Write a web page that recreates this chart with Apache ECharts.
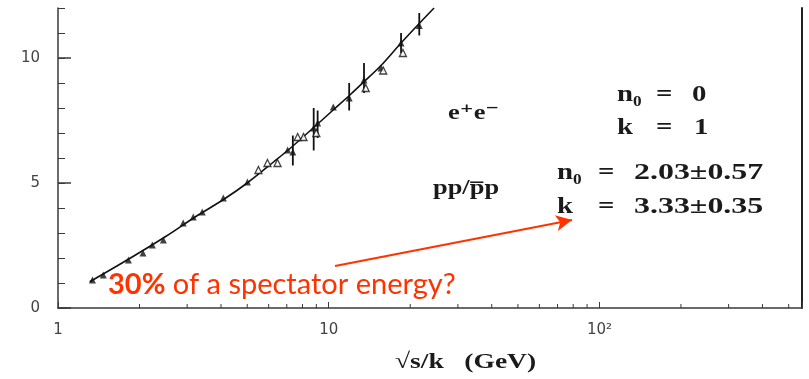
<!DOCTYPE html>
<html><head><meta charset="utf-8">
<script src="https://cdn.jsdelivr.net/npm/echarts@6/dist/echarts.min.js"></script>
<style>html,body{margin:0;padding:0;background:#fff}#c{width:809px;height:379px}</style>
</head><body><div id="c"></div>
<script>
// fitted curve
const curveX = [1.31, 1.82, 2.49, 3.22, 4.10, 5.0, 6.27, 7.23, 9.08, 10.46, 12.06, 13.5, 15.6, 18.5, 21.9, 24.5];
const curveY = [1.05, 1.95, 2.85, 3.65, 4.35, 5.0, 5.85, 6.4, 7.35, 7.95, 8.55, 9.05, 9.7, 10.6, 11.45, 12.0];
// filled triangle data
const filledX = [1.34, 1.47, 1.82, 2.06, 2.23, 2.45, 2.90, 3.16, 3.41, 4.08, 5.01, 7.05, 7.37, 8.8, 9.1, 10.4, 11.9, 13.5, 15.6, 18.5, 21.6];
const filledY = [1.12, 1.32, 1.92, 2.20, 2.52, 2.72, 3.40, 3.64, 3.84, 4.40, 5.04, 6.32, 6.24, 7.2, 7.4, 8.04, 8.4, 9.12, 9.6, 10.6, 11.3];
// open symbol data
const openX = [5.5, 5.94, 6.47, 7.68, 8.07, 9.0, 13.7, 15.9, 18.8];
const openY = [5.52, 5.8, 5.8, 6.84, 6.84, 7.0, 8.8, 9.5, 10.2];
// vertical error bars
const errX    = [7.37, 8.8, 9.1, 11.9, 13.5, 18.5, 21.6];
const errLow  = [5.7, 6.3, 6.8, 7.9, 8.6, 10.2, 10.9];
const errHigh = [6.9, 8.0, 7.9, 9.0, 9.8, 11.0, 11.8];
// axis ticks
const xMinorTicks = [2,3,4,5,6,7,8,9,20,30,40,50,60,70,80,90,200,300,400,500];
const yMajorTicks = [0, 5, 10];
const xTickLabels = {1: '1', 10: '10', 100: '10²'};
// arrow (data coordinates)
const arrowFrom = [10.55, 1.68];
const arrowTo = [79.2, 3.52];

const chart = echarts.init(document.getElementById('c'), null, {renderer: 'canvas'});
const zip = (a, b) => a.map((v, i) => [v, b[i]]);
const AX = '#3a3a3a';
const RED = '#ff3300';
const serif = '"Liberation Serif","DejaVu Serif",serif';
function txt(x, y, text, size, sx, extra) {
  return Object.assign({
    type: 'text', x: x, y: y, scaleX: sx || 1,
    style: {text: text, font: 'bold ' + size + 'px ' + serif, fill: '#1a1a1a', align: 'left', verticalAlign: 'middle'}
  }, extra || {});
}
chart.setOption({
  animation: false,
  grid: {left: 58, right: 7, top: 8, bottom: 71},
  xAxis: {
    type: 'log', logBase: 10, min: 1, max: 560,
    axisLine: {show: true, lineStyle: {color: AX, width: 1.5}},
    axisTick: {show: true, inside: true, length: 6, lineStyle: {color: AX}},
    splitLine: {show: false},
    axisLabel: {margin: 15, color: '#444', fontSize: 15, fontFamily: 'DejaVu Sans',
      formatter: v => xTickLabels[Math.round(v)] || ''}
  },
  yAxis: [{
    type: 'value', min: 0, max: 12, interval: 1,
    axisLine: {show: true, lineStyle: {color: AX, width: 1.5}},
    axisTick: {show: true, inside: true, length: 7, lineStyle: {color: AX}},
    splitLine: {show: false},
    axisLabel: {margin: 18, color: '#444', fontSize: 15, fontFamily: 'DejaVu Sans',
      formatter: v => (yMajorTicks.indexOf(v) >= 0 ? String(v) : '')}
  }, {
    type: 'value', min: 0, max: 12, position: 'right',
    axisLine: {show: true, lineStyle: {color: '#222', width: 2}},
    axisTick: {show: false}, axisLabel: {show: false}, splitLine: {show: false}
  }],
  series: [
    {
      type: 'line', data: zip(curveX, curveY), smooth: 0.3, symbol: 'none',
      lineStyle: {color: '#111', width: 1.6}, z: 3,
      markLine: {
        silent: true, symbol: ['none', 'arrow'], symbolSize: [12, 16],
        lineStyle: {color: RED, width: 2, type: 'solid'},
        label: {show: false},
        data: [[{coord: arrowFrom}, {coord: arrowTo}]]
      }
    },
    {
      type: 'scatter', data: zip(filledX, filledY), symbol: 'triangle', symbolSize: 7,
      itemStyle: {color: '#111'}, z: 4
    },
    {
      type: 'scatter', data: zip(openX, openY), symbol: 'triangle', symbolSize: 7,
      itemStyle: {color: '#fff', borderColor: '#111', borderWidth: 1.3}, z: 4
    },
    {
      type: 'custom', data: errX.map((x, i) => [x, errLow[i], errHigh[i]]),
      encode: {x: 0, y: [1, 2]}, z: 3,
      renderItem: (params, api) => {
        const a = api.coord([api.value(0), api.value(1)]);
        const b = api.coord([api.value(0), api.value(2)]);
        return {type: 'line', shape: {x1: a[0], y1: a[1], x2: b[0], y2: b[1]},
          style: {stroke: '#111', lineWidth: 1.8}};
      }
    },
    {
      type: 'custom', data: xMinorTicks.map(v => [v, 0]), encode: {x: 0, y: 1}, z: 2,
      renderItem: (params, api) => {
        const p = api.coord([api.value(0), api.value(1)]);
        return {type: 'line', shape: {x1: p[0], y1: p[1], x2: p[0], y2: p[1] - 4},
          style: {stroke: AX, lineWidth: 1}};
      }
    },
    {
      type: 'custom', data: yMajorTicks.map(v => [1, v]), encode: {x: 0, y: 1}, z: 2,
      renderItem: (params, api) => {
        const p = api.coord([api.value(0), api.value(1)]);
        return {type: 'line', shape: {x1: p[0], y1: p[1], x2: p[0] + 13, y2: p[1]},
          style: {stroke: AX, lineWidth: 1.5}};
      }
    }
  ],
  graphic: [
    txt(448, 113, 'e\u207Ae\u207B', 22, 1.2),
    txt(617, 95, 'n\u2080', 24, 1.2),
    txt(656, 95, '=', 24, 1.2),
    txt(692, 95, '0', 24, 1.2),
    txt(617, 128, 'k', 24, 1.2),
    txt(656, 128, '=', 24, 1.2),
    txt(694, 128, '1', 24, 1.2),
    txt(433, 188, 'pp/p\u0305p', 22, 1.2),
    txt(557, 173, 'n\u2080', 24, 1.2),
    txt(598, 173, '=', 24, 1.2),
    txt(634, 173, '2.03\u00B10.57', 24, 1.33),
    txt(557, 207, 'k', 24, 1.2),
    txt(598, 207, '=', 24, 1.2),
    txt(634, 207, '3.33\u00B10.35', 24, 1.33),
    txt(395, 362, '\u221As/k   (GeV)', 22, 1.25),
    {
      type: 'text', x: 108, y: 285,
      style: {
        text: '{b|30%}{r| of a spectator energy?}', align: 'left', verticalAlign: 'middle',
        rich: {
          b: {fontFamily: 'Lato', fontWeight: 'bold', fontSize: 29, fill: RED},
          r: {fontFamily: 'Lato', fontSize: 29, fill: RED}
        }
      }
    }
  ]
});
</script>
</body></html>
